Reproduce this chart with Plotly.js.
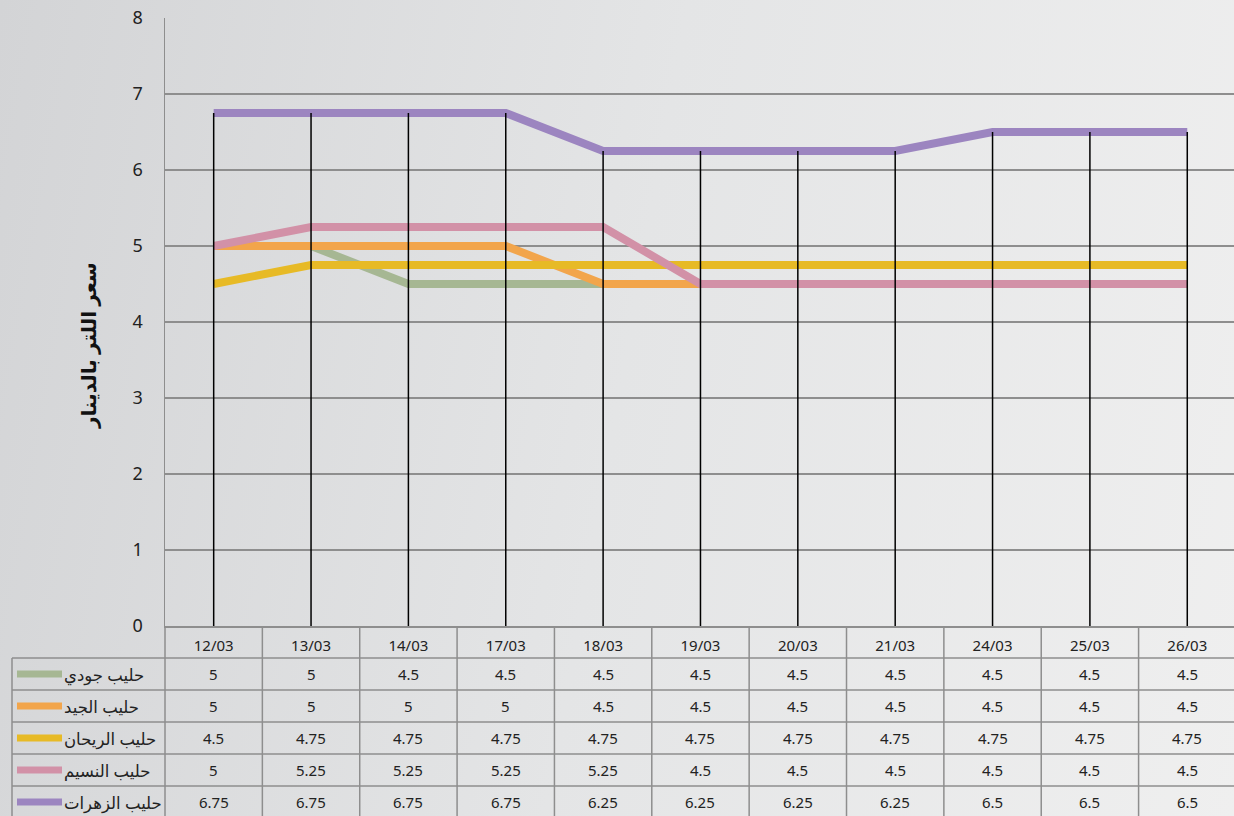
<!DOCTYPE html>
<html>
<head>
<meta charset="utf-8">
<script src="https://cdn.plot.ly/plotly-3.0.1.min.js"></script>
<style>
  html, body { margin: 0; padding: 0; }
  body { width: 1234px; height: 816px; background: linear-gradient(100deg, #d3d4d6 0%, #e4e5e6 50%, #efefef 100%); }
  #chart { width: 1234px; height: 816px; }
</style>
</head>
<body>
<div id="chart"></div>
<script>
// Daten (Preis pro Liter in Dinar)
const dates = ['12/03', '13/03', '14/03', '17/03', '18/03', '19/03', '20/03', '21/03', '24/03', '25/03', '26/03'];
const seriesNames = ['حليب جودي', 'حليب الجيد', 'حليب الريحان', 'حليب النسيم', 'حليب الزهرات'];
const jodi = [5, 5, 4.5, 4.5, 4.5, 4.5, 4.5, 4.5, 4.5, 4.5, 4.5];
const jayyid = [5, 5, 5, 5, 4.5, 4.5, 4.5, 4.5, 4.5, 4.5, 4.5];
const rayhan = [4.5, 4.75, 4.75, 4.75, 4.75, 4.75, 4.75, 4.75, 4.75, 4.75, 4.75];
const naseem = [5, 5.25, 5.25, 5.25, 5.25, 4.5, 4.5, 4.5, 4.5, 4.5, 4.5];
const zahrat = [6.75, 6.75, 6.75, 6.75, 6.25, 6.25, 6.25, 6.25, 6.5, 6.5, 6.5];
const yTitle = 'سعر اللتر بالدينار';

const seriesValues = [jodi, jayyid, rayhan, naseem, zahrat];
const colors = ['#a6b793', '#f2a54b', '#e7ba26', '#d291a7', '#9c85c0'];

const W = 1234, H = 816;
const M = { l: 165, r: 0, t: 18, b: 0 };
const plotW = W - M.l - M.r;
const plotH = H - M.t - M.b;
const px2paperX = p => (p - M.l) / plotW;
const px2paperY = p => (H - M.b - p) / plotH;

const chartBottom = 626;
const splitY = px2paperY(chartBottom);
const rowPx = 32;
const tableRows = (H - chartBottom) / rowPx;
const gridColor = '#8e8e8e';
const font = 'Noto Sans, Open Sans, DejaVu Sans, sans-serif';

// Linien
const traces = seriesValues.map((vals, i) => ({
    x: dates,
    y: vals,
    type: 'scatter',
    mode: 'lines',
    name: seriesNames[i],
    line: { color: colors[i], width: 8 },
    hoverinfo: 'skip'
}));

// Hilfstrace für die Tabellen-Achse
traces.push({
    x: dates,
    y: dates.map(() => null),
    yaxis: 'y2',
    type: 'scatter',
    mode: 'markers',
    showlegend: false,
    hoverinfo: 'skip'
});

const shapes = [];
const annotations = [];

// Lotlinien vom höchsten Wert bis zur Achse
dates.forEach((d, i) => {
    const top = Math.max(...seriesValues.map(v => v[i]));
    shapes.push({
        type: 'line', xref: 'x', yref: 'y',
        x0: d, x1: d, y0: 0, y1: top,
        line: { color: '#000', width: 1.5 }
    });
});

// Tabellen-Gitter
const leftX = px2paperX(12);
for (let r = 1; r <= 5; r++) {
    shapes.push({
        type: 'line', xref: 'paper', yref: 'y2',
        x0: leftX, x1: 1, y0: r, y1: r,
        line: { color: gridColor, width: 1.5 }, layer: 'below'
    });
}
for (let i = 1; i <= dates.length; i++) {
    shapes.push({
        type: 'line', xref: 'x', yref: 'y2',
        x0: i - 0.5, x1: i - 0.5, y0: 0, y1: tableRows,
        line: { color: gridColor, width: 1.5 }, layer: 'below'
    });
}
shapes.push({
    type: 'line', xref: 'paper', yref: 'y2',
    x0: 0, x1: 0, y0: 0, y1: tableRows,
    line: { color: gridColor, width: 1.5 }, layer: 'below'
});
shapes.push({
    type: 'line', xref: 'paper', yref: 'y2',
    x0: leftX, x1: leftX, y0: 1, y1: tableRows,
    line: { color: gridColor, width: 1.5 }, layer: 'below'
});

// Tabellen-Inhalt und Legende
seriesValues.forEach((vals, s) => {
    const yc = s + 1.5;
    shapes.push({
        type: 'line', xref: 'paper', yref: 'y2',
        x0: px2paperX(17), x1: px2paperX(62), y0: yc, y1: yc,
        line: { color: colors[s], width: 7 }
    });
    annotations.push({
        xref: 'paper', yref: 'y2', x: px2paperX(62), y: yc,
        xanchor: 'left', yanchor: 'middle', showarrow: false,
        text: seriesNames[s], font: { family: font, size: 16.5, color: '#222' }
    });
    vals.forEach((v, i) => {
        annotations.push({
            xref: 'x', yref: 'y2', x: dates[i], y: yc,
            xanchor: 'center', yanchor: 'middle', showarrow: false,
            text: String(v), font: { family: font, size: 15, color: '#222' }
        });
    });
});

// Achsentitel
annotations.push({
    xref: 'paper', yref: 'paper', x: px2paperX(88), y: px2paperY(346),
    xanchor: 'center', yanchor: 'middle', showarrow: false, textangle: -90,
    text: '<b>' + yTitle + '</b>', font: { family: font, size: 20, color: '#111' }
});

const layout = {
    width: W,
    height: H,
    margin: M,
    paper_bgcolor: 'rgba(0,0,0,0)',
    plot_bgcolor: 'rgba(0,0,0,0)',
    showlegend: false,
    font: { family: font, color: '#222' },
    xaxis: {
        type: 'category',
        range: [-0.5, 10.48],
        anchor: 'y',
        showgrid: false,
        showline: true,
        linecolor: gridColor,
        linewidth: 1.5,
        ticks: 'outside',
        ticklen: 5,
        tickcolor: 'rgba(0,0,0,0)',
        tickfont: { family: font, size: 15, color: '#222' },
        fixedrange: true
    },
    yaxis: {
        domain: [splitY, 1],
        range: [0, 8],
        dtick: 1,
        showgrid: true,
        gridcolor: gridColor,
        gridwidth: 1.2,
        zeroline: false,
        showline: true,
        linecolor: gridColor,
        linewidth: 1.5,
        ticks: 'outside',
        ticklen: 17,
        tickcolor: 'rgba(0,0,0,0)',
        tickfont: { family: font, size: 18, color: '#222' },
        fixedrange: true
    },
    yaxis2: {
        domain: [0, splitY],
        range: [tableRows, 0],
        anchor: 'x',
        visible: false,
        fixedrange: true
    },
    shapes: shapes,
    annotations: annotations
};

Plotly.newPlot('chart', traces, layout, { staticPlot: true });
</script>
</body>
</html>
